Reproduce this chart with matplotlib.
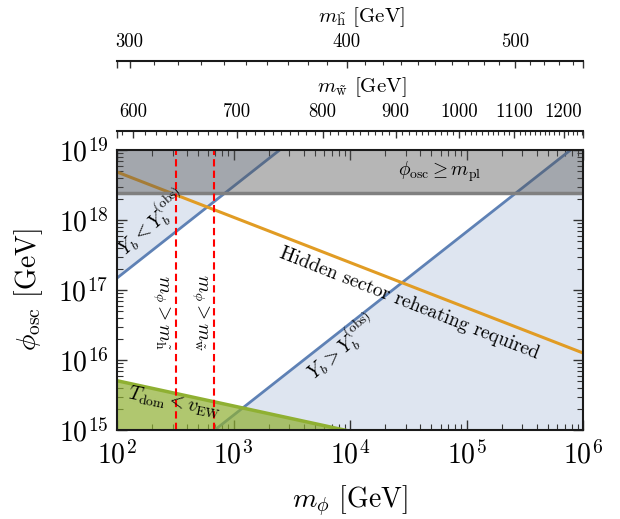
import numpy as np
import matplotlib
matplotlib.use("Agg")
import matplotlib.pyplot as plt
from matplotlib.ticker import FixedLocator, NullFormatter

plt.rcParams.update({
    "font.family": "serif",
    "font.serif": ["cmr10"],
    "mathtext.fontset": "cm",
    "axes.formatter.use_mathtext": True,
})

# ---------------- data ----------------
x_lim = [1e2, 1e6]
y_lim = [1e15, 1e19]
m_pl = 2.435e18

yb_low_m = [1e2, 2.51e3]          # boundary of Y_b < Y_b^(obs) region
yb_low_phi = [1.48e17, 1.01e19]
yb_high_m = [6.9e2, 1e6]          # boundary of Y_b > Y_b^(obs) region
yb_high_phi = [1e15, 1.38e19]
hidden_m = [1e2, 1e6]             # hidden sector reheating line
hidden_phi = [4.85e18, 1.26e16]
tdom_m = [1e2, 1e4]               # T_dom < v_EW boundary
tdom_phi = [5.06e15, 9.6e14]
m_higgsino_line = 320.0
m_wino_line = 676.0

wino_ticks = [600, 700, 800, 900, 1000, 1100, 1200]
higgsino_ticks = [300, 400, 500]

# mapping m_phi <-> m_wino (fit of the top-axis tick positions)
P0w, U0w, aw, bw, cw = 4.2146, 2.94303, 0.0413, 12.15, -4.13
# mapping m_phi <-> m_higgsino
P0h, U0h, nh = 3.970, np.log10(400.0), 14.9


def w_fwd(m):
    m = np.asarray(m, dtype=float)
    with np.errstate(all="ignore"):
        p = np.log10(np.clip(m, 1e-300, None)) - P0w
        D = np.clip(bw**2 - 4 * cw * (aw - p), 1e-12, None)
        u = (-bw + np.sqrt(D)) / (2 * cw)
        return 10 ** (u + U0w)


def w_inv(mw):
    mw = np.asarray(mw, dtype=float)
    with np.errstate(all="ignore"):
        u = np.log10(np.clip(mw, 1e-300, None)) - U0w
        return 10 ** (P0w + aw + bw * u + cw * u**2)


def h_fwd(m):
    m = np.asarray(m, dtype=float)
    with np.errstate(all="ignore"):
        return 10 ** (U0h + (np.log10(np.clip(m, 1e-300, None)) - P0h) / nh)


def h_inv(mh):
    mh = np.asarray(mh, dtype=float)
    with np.errstate(all="ignore"):
        return 10 ** (P0h + nh * (np.log10(np.clip(mh, 1e-300, None)) - U0h))


# ---------------- figure ----------------
W, H = 620, 519
fig = plt.figure(figsize=(W / 100, H / 100), dpi=100)
L, R, T, B = 117, 583, 150, 430
ax = fig.add_axes([L / W, 1 - B / H, (R - L) / W, (B - T) / H])
ax.set_xscale("log")
ax.set_yscale("log")
ax.set_xlim(x_lim)
ax.set_ylim(y_lim)

blue = "#5E81B5"
orange = "#E19C24"
green = "#8FB032"

# blue regions
ax.fill_between(yb_low_m, yb_low_phi, y_lim[1], color=blue, alpha=0.2, lw=0, zorder=1)
ax.fill_between(yb_high_m, y_lim[0], yb_high_phi, color=blue, alpha=0.2, lw=0, zorder=1)
ax.plot(yb_low_m, yb_low_phi, color=blue, lw=2, zorder=2)
ax.plot(yb_high_m, yb_high_phi, color=blue, lw=2, zorder=2)

# hidden sector line
ax.plot(hidden_m, hidden_phi, color=orange, lw=2.2, zorder=2.5)

# T_dom region
ax.fill_between(tdom_m, tdom_phi, y_lim[0] * 0.5, color=green, alpha=0.7, lw=0, zorder=3)
ax.plot(tdom_m, tdom_phi, color=green, lw=2.5, zorder=4)

# planck band
ax.axhspan(m_pl, y_lim[1], color=(82 / 255, 82 / 255, 82 / 255), alpha=0.42, lw=0, zorder=5)
ax.axhline(m_pl, color="#808080", lw=2.5, zorder=5.5)

# dashed mass lines
for xv in (m_higgsino_line, m_wino_line):
    ax.axvline(xv, color="red", lw=1.5, ls=(0, (3.5, 2)), zorder=6)

# labels inside the plot
ax.text(5.85e4, 4.85e18, r"$\phi_{\rm osc} \geq m_{\rm pl}$", fontsize=14,
        ha="center", va="center", zorder=7)
ax.text(200, 9.3e17, r"$Y_b < Y_b^{(\rm obs)}$", fontsize=14, rotation=41,
        ha="center", va="center", rotation_mode="anchor", zorder=7)
ax.text(8.45e3, 1.53e16, r"$Y_b > Y_b^{(\rm obs)}$", fontsize=14, rotation=40,
        ha="center", va="center", rotation_mode="anchor", zorder=7)
ax.text(3.2e4, 6.5e16, "Hidden sector reheating required", fontsize=14,
        rotation=-21.5, ha="center", va="center", rotation_mode="anchor", zorder=7)
ax.text(314, 2.5e15, r"$T_{\rm dom} < v_{\rm EW}$", fontsize=14, rotation=-11,
        ha="center", va="center", rotation_mode="anchor", zorder=7)
ax.text(238, 4.85e16, r"$m_\phi > m_{\tilde{\rm h}}$", fontsize=14, rotation=-90,
        ha="center", va="center", rotation_mode="anchor", zorder=7)
ax.text(514, 4.85e16, r"$m_\phi > m_{\tilde{\rm w}}$", fontsize=14, rotation=-90,
        ha="center", va="center", rotation_mode="anchor", zorder=7)

# frame / ticks
for s in ax.spines.values():
    s.set_linewidth(1.5)
    s.set_color("#1a1a1a")
    s.set_zorder(10)
ax.tick_params(which="both", direction="in", top=True, right=True, color="#333333")
ax.tick_params(which="major", length=7, width=1.0)
ax.tick_params(which="minor", length=4, width=0.8)
ax.tick_params(axis="x", labelsize=20, pad=8)
ax.tick_params(axis="y", labelsize=20, pad=6)

ax.set_xlabel(r"$m_\phi$ [GeV]", fontsize=20, labelpad=10)
ax.set_ylabel(r"$\phi_{\rm osc}$ [GeV]", fontsize=20, labelpad=10)

# ---------------- top axes ----------------
def top_axis(loc, fwd, inv, majors, step, title, title_y):
    sec = ax.secondary_xaxis(loc, functions=(fwd, inv))
    lo = float(fwd(x_lim[0])) * 1.0005
    hi = float(fwd(x_lim[1])) * 0.9995
    ticks = list(majors) + [lo, hi]
    labels = [str(t) for t in majors] + ["", ""]
    sec.set_xticks(ticks, labels)
    mins = [v for v in np.arange(np.ceil(lo / step) * step, hi, step)
            if all(abs(v - t) > 1e-6 for t in majors)]
    sec.xaxis.set_minor_locator(FixedLocator(mins))
    sec.xaxis.set_minor_formatter(NullFormatter())
    sec.tick_params(which="both", direction="in", color="#333333")
    sec.tick_params(which="major", length=5, width=1.0, labelsize=13.5, pad=7)
    sec.tick_params(which="minor", length=3, width=0.8)
    for s in sec.spines.values():
        s.set_linewidth(1.5)
        s.set_color("#1a1a1a")
    ax.text(0.525, title_y, title, transform=ax.transAxes, fontsize=15,
            ha="center", va="center")
    return sec


top_axis(1.068, w_fwd, w_inv, wino_ticks, 10, r"$m_{\tilde{\rm w}}$ [GeV]", 1.225)
top_axis(1.318, h_fwd, h_inv, higgsino_ticks, 10, r"$m_{\tilde{\rm h}}$ [GeV]", 1.475)

fig.savefig("out.png", dpi=100)
